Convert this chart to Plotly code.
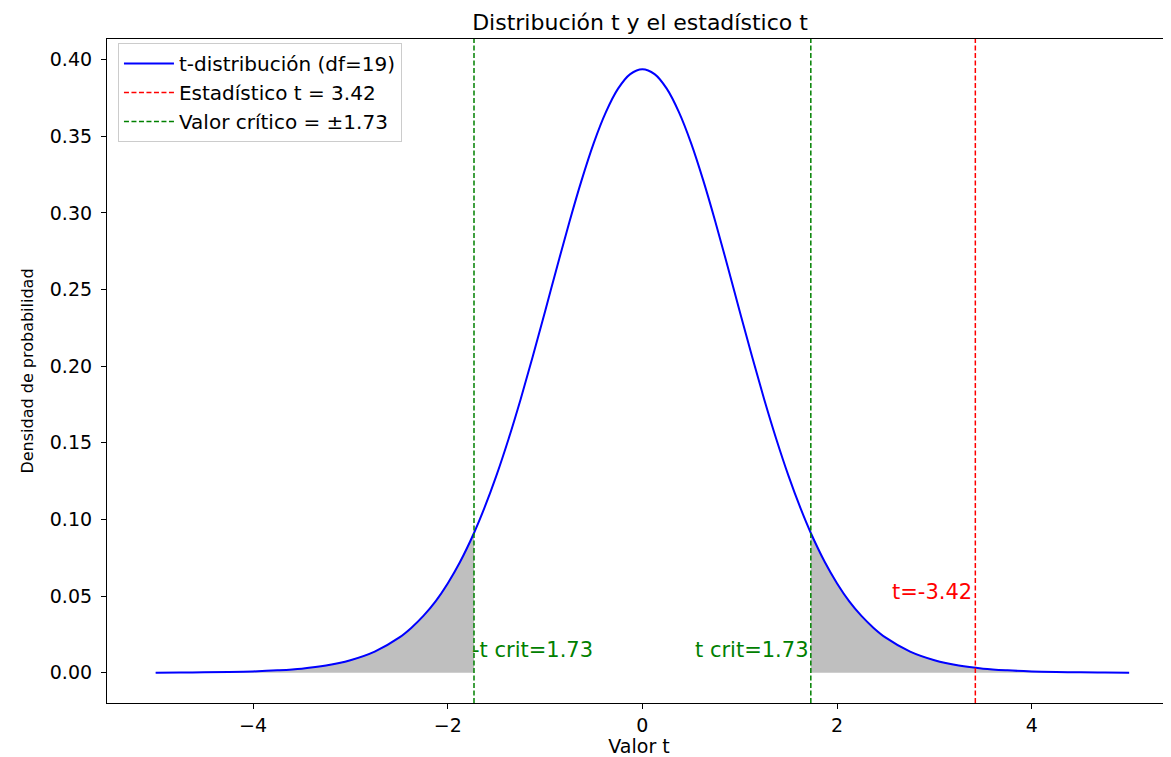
import plotly.graph_objects as go

# ---- data ----
t_values = [-5.0, -4.75, -4.5, -4.25, -4.0, -3.75, -3.5, -3.25, -3.0, -2.75, -2.5, -2.375, -2.25, -2.125,
            -2.0, -1.875, -1.73, -1.625, -1.5, -1.375, -1.25, -1.125, -1.0, -0.875, -0.75, -0.625,
            -0.5, -0.375, -0.25, -0.125, 0.0,
            0.125, 0.25, 0.375, 0.5, 0.625, 0.75, 0.875, 1.0, 1.125, 1.25, 1.375, 1.5, 1.625,
            1.73, 1.875, 2.0, 2.125, 2.25, 2.375, 2.5, 2.75, 3.0,
            3.25, 3.5, 3.75, 4.0, 4.25, 4.5, 4.75, 5.0]
density = [0.0001, 0.0002, 0.0003, 0.0005, 0.0009, 0.0016, 0.0027, 0.0047, 0.0082, 0.0138, 0.0229, 0.0293, 0.0371, 0.0466,
           0.0583, 0.0721, 0.0912, 0.1072, 0.1286, 0.1525, 0.1786, 0.2066, 0.2357, 0.2652, 0.2941, 0.3212,
           0.3455, 0.3657, 0.3810, 0.3905, 0.3937,
           0.3905, 0.3810, 0.3657, 0.3455, 0.3212, 0.2941, 0.2652, 0.2357, 0.2066, 0.1786, 0.1525, 0.1286, 0.1072,
           0.0912, 0.0721, 0.0583, 0.0466, 0.0371, 0.0293, 0.0229, 0.0138, 0.0082,
           0.0047, 0.0027, 0.0016, 0.0009, 0.0005, 0.0003, 0.0002, 0.0001]
t_stat = 3.42
t_crit = 1.73
df = 19
x_ticks = [-4, -2, 0, 2, 4]
y_ticks = [0.00, 0.05, 0.10, 0.15, 0.20, 0.25, 0.30, 0.35, 0.40]

FONT = "DejaVu Sans"
fig = go.Figure()

# shaded tails
left_x = [x for x in t_values if x <= -t_crit]
left_y = [y for x, y in zip(t_values, density) if x <= -t_crit]
right_x = [x for x in t_values if x >= t_crit]
right_y = [y for x, y in zip(t_values, density) if x >= t_crit]
for xs, ys in ((left_x, left_y), (right_x, right_y)):
    fig.add_trace(go.Scatter(x=xs, y=ys, mode="lines", fill="tozeroy",
                             line=dict(color="rgba(128,128,128,0.5)", width=1, shape="spline"),
                             fillcolor="rgba(128,128,128,0.5)", showlegend=False, hoverinfo="skip"))

fig.add_trace(go.Scatter(x=t_values, y=density, mode="lines",
                         line=dict(color="blue", width=2, shape="spline"),
                         name=f"t-distribución (df={df})"))
fig.add_trace(go.Scatter(x=[None], y=[None], mode="lines",
                         line=dict(color="red", width=1.5, dash="5px,2.5px"),
                         name=f"Estadístico t = {t_stat:.2f}"))
fig.add_trace(go.Scatter(x=[None], y=[None], mode="lines",
                         line=dict(color="green", width=1.5, dash="5px,2.5px"),
                         name=f"Valor crítico = ±{t_crit:.2f}"))

for xv, col in ((-t_crit, "green"), (t_crit, "green"), (t_stat, "red")):
    fig.add_shape(type="line", x0=xv, x1=xv, y0=0, y1=1, xref="x", yref="paper",
                  line=dict(color=col, width=1.5, dash="5px,2.5px"))

ANN = 21
fig.add_annotation(x=-t_crit, y=0.0146, text=f"-t crit={t_crit:.2f}", showarrow=False,
                   xanchor="left", yanchor="middle", xshift=-4,
                   font=dict(color="green", size=ANN, family=FONT))
fig.add_annotation(x=t_crit, y=0.0146, text=f"t crit={t_crit:.2f}", showarrow=False,
                   xanchor="right", yanchor="middle", xshift=0,
                   font=dict(color="green", size=ANN, family=FONT))
fig.add_annotation(x=t_stat, y=0.053, text=f"t=-{t_stat:.2f}", showarrow=False,
                   xanchor="right", yanchor="middle", xshift=-1,
                   font=dict(color="red", size=ANN, family=FONT))

# page body has an 8px margin: figure is 8px smaller and top/left margins shifted by 8px
fig.update_layout(
    width=1163, height=749, autosize=False,
    margin=dict(l=99, r=0, t=31, b=54),
    plot_bgcolor="white", paper_bgcolor="white",
    font=dict(family=FONT, size=19, color="black"),
    title=dict(text="Distribución t y el estadístico t", x=632 / 1163, xref="container",
               xanchor="center", y=1 - 14 / 749, yref="container", yanchor="middle",
               font=dict(size=22, family=FONT, color="black")),
    legend=dict(x=0.0103, y=0.994, xanchor="left", yanchor="top", itemwidth=50,
                bgcolor="rgba(255,255,255,0.8)", bordercolor="#cccccc", borderwidth=1,
                font=dict(size=20, family=FONT), tracegroupgap=0),
    showlegend=True,
)
fig.update_xaxes(range=[-5.5, 5.43], tickvals=x_ticks, showgrid=False, zeroline=False,
                 showline=True, linecolor="black", linewidth=1.2, mirror=True,
                 ticks="outside", ticklen=5, tickcolor="black", automargin=False,
                 tickfont=dict(size=19, family=FONT),
                 title=dict(text="Valor t", font=dict(size=19, family=FONT), standoff=13))
fig.update_yaxes(range=[-0.0197, 0.4134], tickvals=y_ticks, tickformat=".2f", showgrid=False,
                 zeroline=False, showline=True, linecolor="black", linewidth=1.2, mirror=False,
                 ticks="outside", ticklen=5, tickcolor="black", automargin=False,
                 ticklabelstandoff=5,
                 tickfont=dict(size=19, family=FONT),
                 title=dict(text="Densidad de probabilidad", font=dict(size=16, family=FONT), standoff=12))

fig.write_html("out.html")
